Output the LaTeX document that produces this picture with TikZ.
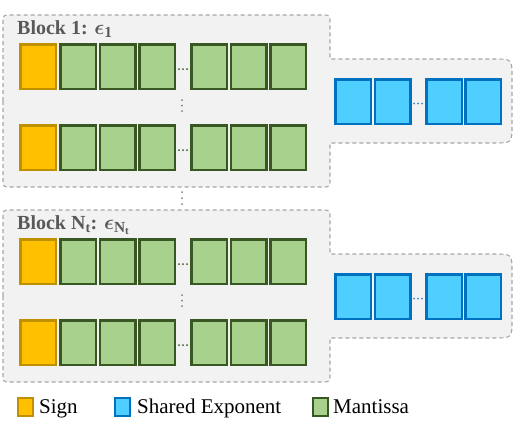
\documentclass[tikz,border=0pt]{standalone}
\usepackage{fontspec}
\setmainfont{Liberation Serif}
\usepackage{bm}
\definecolor{signfill}{HTML}{FFC000}
\definecolor{signline}{HTML}{BF9000}
\definecolor{mantfill}{HTML}{A9D18E}
\definecolor{mantline}{HTML}{385723}
\definecolor{expofill}{HTML}{4FCFFF}
\definecolor{expoline}{HTML}{0070C0}
\definecolor{bgfill}{HTML}{F2F2F2}
\definecolor{bgline}{HTML}{A6A6A6}
\definecolor{labelgray}{HTML}{595959}
\definecolor{dotgray}{HTML}{7F7F7F}
\newcommand\bigeps[1]{{\fontsize{22}{26}\selectfont$\bm{\epsilon}_{#1}$}}
\begin{document}
\begin{tikzpicture}[x=1pt,y=-1pt,
  box/.style={minimum width=35.5pt, minimum height=44.5pt, inner sep=0pt, outer sep=0pt, line width=2.5pt},
  signbox/.style={box, fill=signfill, draw=signline},
  mantbox/.style={box, fill=mantfill, draw=mantline},
  expobox/.style={box, fill=expofill, draw=expoline},
  blockbg/.style={fill=bgfill, draw=bgline, line width=1.1pt, dash pattern=on 4pt off 3pt},
  blocklabel/.style={anchor=base west, inner sep=0pt, text=labelgray, font=\fontsize{20}{24}\selectfont\bfseries},
  legendbox/.style={minimum width=15pt, minimum height=18pt, inner sep=0pt, line width=2pt},
  legendtext/.style={anchor=base west, inner sep=0pt, font=\fontsize{21}{25}\selectfont}]
\useasboundingbox (0,0) rectangle (515,434);

\foreach \b/\dy/\lab in {1/0/{Block 1: \bigeps{\mathbf{1}}},
                         2/195/{Block N$_{\mathbf{t}}$: \bigeps{\mathbf{N}_{\mathbf{t}}}}} {
  % block background
  \draw[blockbg] (3,{101+\dy})
     -- (3,{23+\dy}) .. controls (3,{15+\dy}) .. (11,{15+\dy})
     -- (322,{15+\dy}) .. controls (330,{15+\dy}) .. (330,{23+\dy})
     -- (330,{59+\dy})
     -- (494,{59+\dy}) .. controls (512,{59+\dy}) .. (512,{77+\dy})
     -- (512,{125+\dy}) .. controls (512,{143+\dy}) .. (494,{143+\dy})
     -- (330,{143+\dy})
     -- (330,{179+\dy}) .. controls (330,{187+\dy}) .. (322,{187+\dy})
     -- (11,{187+\dy}) .. controls (3,{187+\dy}) .. (3,{179+\dy})
     -- cycle;
  \node[blocklabel] (lab\b) at (17,{34+\dy}) {\lab};
  % rows
  \foreach \r/\yc in {1/66.5, 2/147.5} {
    \node[signbox] (b\b-r\r-s) at (38,{\yc+\dy}) {};
    \foreach \i/\xc in {1/78, 2/117.5, 3/157, 4/209, 5/248.5, 6/288} {
      \node[mantbox] (b\b-r\r-m\i) at (\xc,{\yc+\dy}) {};
    }
    \foreach \xd in {179,183,187} {
      \fill[mantline] (\xd,{\yc+\dy+2.5}) circle (1pt);
    }
  }
  % vertical dots between rows
  \foreach \yd in {100,105.5,111} {
    \fill[dotgray] (182,{\yd+\dy}) circle (1pt);
  }
  % shared exponent
  \foreach \i/\xc in {1/353, 2/392.5, 3/444, 4/483} {
    \node[expobox] (b\b-e\i) at (\xc,{101.5+\dy}) {};
  }
  \foreach \xd in {414,418,422} {
    \fill[expoline!80] (\xd,{101.5+\dy+2}) circle (1pt);
  }
}
% dots between blocks
\foreach \yd in {192,198,204} {
  \fill[dotgray] (182,\yd) circle (1pt);
}

% legend
\node[legendbox, fill=signfill, draw=signline] (lsign) at (25.5,407) {};
\node[legendtext] (tsign) at (39,413) {Sign};
\node[legendbox, fill=expofill, draw=expoline] (lexpo) at (122.5,407) {};
\node[legendtext] (texpo) at (137,413) {Shared Exponent};
\node[legendbox, fill=mantfill, draw=mantline] (lmant) at (320.5,407) {};
\node[legendtext] (tmant) at (333,413) {Mantissa};
\end{tikzpicture}
\end{document}
